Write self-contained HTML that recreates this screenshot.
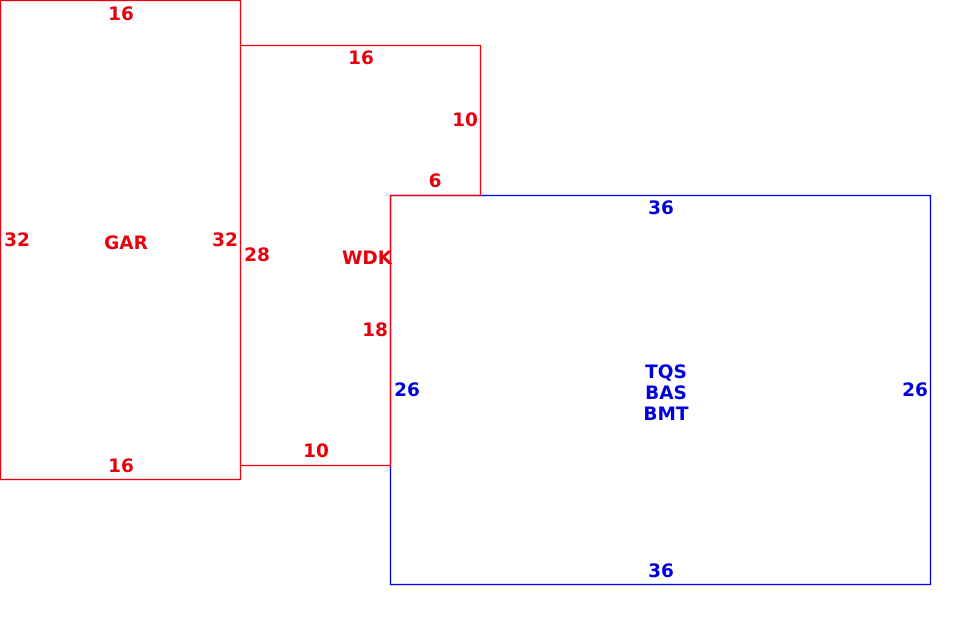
<!DOCTYPE html>
<html><head><meta charset="utf-8"><style>
html,body{margin:0;padding:0;background:#fff;width:980px;height:644px;overflow:hidden}
svg{display:block}
text{font-family:"DejaVu Sans","Liberation Sans",sans-serif;font-weight:bold;font-size:18.5px;text-anchor:middle}
.r{fill:#e8000b}.b{fill:#0000dd}
</style></head><body>
<svg width="980" height="644" viewBox="0 0 980 644">
<rect x="390.5" y="195.5" width="540" height="389" fill="none" stroke="#0000ee" stroke-width="1.3"/>
<rect x="0.5" y="0.5" width="240" height="479" fill="none" stroke="#ee0011" stroke-width="1.3"/>
<polyline points="240.5,45.5 480.5,45.5 480.5,195.5 390.5,195.5 390.5,465.5 240.5,465.5" fill="none" stroke="#ee0011" stroke-width="1.3"/>
<g class="r">
<text x="121" y="20">16</text>
<text x="121" y="472">16</text>
<text x="17" y="246">32</text>
<text x="225" y="246">32</text>
<text x="126" y="249">GAR</text>
<text x="361" y="64">16</text>
<text x="465" y="126">10</text>
<text x="435" y="187">6</text>
<text x="257" y="261">28</text>
<text x="367" y="264">WDK</text>
<text x="375" y="336">18</text>
<text x="316" y="457">10</text>
</g>
<g class="b">
<text x="661" y="214">36</text>
<text x="661" y="577">36</text>
<text x="407" y="396">26</text>
<text x="915" y="396">26</text>
<text x="666" y="378">TQS</text>
<text x="666" y="399">BAS</text>
<text x="666" y="420">BMT</text>
</g>
</svg>
</body></html>
